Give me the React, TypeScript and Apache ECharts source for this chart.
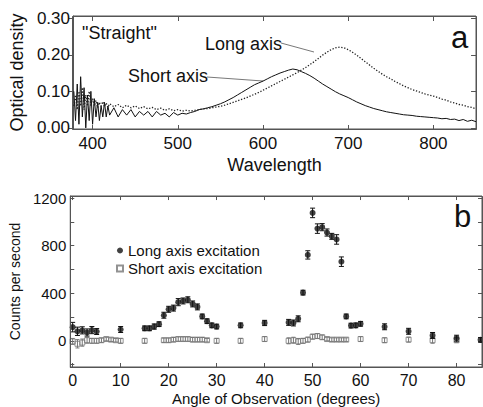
import React, { useEffect, useRef } from 'react';
import * as echarts from 'echarts';

const FONT = 'Liberation Sans, Arial, sans-serif';

// Panel a: absorption spectra
const wavelengths = [
  378, 380, 382, 384, 386, 388, 390, 392, 394, 396, 398, 400, 402, 404, 406, 408, 410, 412, 414, 416, 418, 420,
  425, 430, 435, 440, 445, 450, 455, 460, 465, 470, 475, 480, 485, 490, 495, 500, 505, 510, 515, 520,
  525, 530, 535, 540, 545, 550, 555, 560, 565, 570, 575, 580, 585, 590, 595, 600, 605, 610, 615, 620,
  625, 630, 635, 640, 645, 650, 655, 660, 665, 670, 675, 680, 685, 690, 695, 700, 705, 710, 715, 720,
  725, 730, 735, 740, 745, 750, 755, 760, 765, 770, 775, 780, 785, 790, 795, 800, 805, 810, 815, 820,
  825, 830, 835, 840, 845, 850,
];
const shortAxisOD = [
  0.10, 0.02, 0.12, 0.01, 0.14, 0.03, 0.11, 0.00, 0.09, 0.02, 0.10, 0.01, 0.08, 0.03, 0.07, 0.02, 0.06, 0.03, 0.07, 0.03, 0.06, 0.035,
  0.055, 0.03, 0.05, 0.035, 0.05, 0.03, 0.045, 0.035, 0.045, 0.03, 0.045, 0.035, 0.04, 0.03, 0.042, 0.035, 0.04, 0.038, 0.042, 0.045,
  0.05, 0.052, 0.055, 0.058, 0.062, 0.066, 0.071, 0.077, 0.083, 0.09, 0.097, 0.104, 0.111, 0.118, 0.123, 0.128, 0.134, 0.14, 0.145, 0.15,
  0.154, 0.158, 0.161, 0.159, 0.154, 0.149, 0.143, 0.136, 0.128, 0.12, 0.113, 0.106, 0.099, 0.093, 0.088, 0.083, 0.077, 0.071, 0.066, 0.061,
  0.057, 0.053, 0.05, 0.047, 0.044, 0.042, 0.04, 0.038, 0.036, 0.035, 0.034, 0.032, 0.031, 0.03, 0.029, 0.028, 0.027, 0.025, 0.026, 0.023,
  0.024, 0.02, 0.023, 0.018, 0.021, 0.017,
];
const longAxisOD = [
  0.06, 0.09, 0.05, 0.10, 0.06, 0.11, 0.05, 0.09, 0.06, 0.10, 0.06, 0.08, 0.06, 0.075, 0.055, 0.07, 0.06, 0.072, 0.058, 0.068, 0.056, 0.066,
  0.058, 0.064, 0.055, 0.062, 0.055, 0.06, 0.053, 0.058, 0.052, 0.056, 0.05, 0.054, 0.048, 0.052, 0.047, 0.05, 0.046, 0.048, 0.046, 0.048,
  0.05, 0.052, 0.053, 0.055, 0.057, 0.059, 0.062, 0.066, 0.07, 0.074, 0.078, 0.082, 0.087, 0.092, 0.097, 0.103, 0.109, 0.115, 0.121, 0.127,
  0.133, 0.139, 0.145, 0.151, 0.158, 0.165, 0.173, 0.181, 0.19, 0.199, 0.207, 0.214, 0.219, 0.221, 0.219, 0.214, 0.207, 0.199, 0.19, 0.181,
  0.172, 0.163, 0.155, 0.147, 0.14, 0.134, 0.127, 0.121, 0.115, 0.11, 0.105, 0.101, 0.097, 0.093, 0.09, 0.087, 0.083, 0.079, 0.076, 0.071,
  0.068, 0.064, 0.062, 0.058, 0.056, 0.052,
];

// Panel b: counts vs angle
const angleLong = [0, 1, 2, 3, 4, 5, 10, 15, 16, 17, 18, 19, 20, 21, 22, 23, 24, 25, 26, 27, 28, 29, 30, 35, 40, 45, 46, 47, 48, 49, 50, 51, 52, 53, 54, 55, 56, 57, 58, 59, 60, 65, 70, 75, 80, 85];
const countsLong = [115, 80, 88, 70, 90, 78, 95, 105, 105, 120, 140, 215, 265, 275, 325, 335, 345, 310, 285, 205, 165, 130, 120, 130, 150, 155, 150, 185, 405, 722, 1075, 943, 955, 910, 878, 852, 665, 205, 128, 130, 143, 118, 80, 45, 22, 8];
const errLong = [40, 35, 30, 30, 30, 25, 25, 20, 20, 22, 20, 25, 25, 25, 30, 25, 25, 25, 25, 20, 20, 20, 20, 20, 22, 25, 25, 25, 20, 35, 40, 40, 30, 30, 25, 40, 40, 20, 20, 20, 20, 25, 25, 25, 25, 20];
const angleShort = [0, 1, 2, 3, 4, 5, 6, 7, 8, 9, 10, 15, 19, 20, 21, 22, 23, 24, 25, 26, 27, 28, 30, 35, 40, 45, 46, 47, 48, 49, 50, 51, 52, 53, 54, 55, 56, 57, 60, 65, 70, 75, 80];
const countsShort = [-5, -25, -15, 5, 0, 0, 5, 15, 10, 5, 0, 0, 5, 5, 10, 15, 15, 15, 10, 10, 10, 5, 0, 0, 15, 0, 5, -5, 0, 10, 35, 40, 30, 15, 10, 10, 10, 10, 15, 5, 10, 5, 5];
const errShort = [25, 35, 30, 25, 20, 20, 18, 15, 15, 15, 20, 20, 18, 18, 18, 18, 18, 18, 18, 18, 18, 15, 20, 20, 20, 25, 25, 25, 20, 20, 20, 20, 18, 15, 15, 15, 15, 15, 20, 20, 20, 25, 20];

const odTicks = [0, 0.1, 0.2, 0.3];
const wlTicks = [400, 500, 600, 700, 800];
const countLabelTicks = [0, 400, 800, 1200];
const countTicks = [-200, 0, 200, 400, 600, 800, 1000, 1200];
const angleTicks = [0, 10, 20, 30, 40, 50, 60, 70, 80];

const WL_MIN = 377, WL_MAX = 850, OD_MIN = -0.003, OD_MAX = 0.306;
const ANG_MIN = -0.5, ANG_MAX = 85.3, CNT_MIN = -220, CNT_MAX = 1217;

const AXIS_COLOR = '#555';
const TEXT_COLOR = '#111';

const GRID_A = { left: 72, top: 16, width: 404, height: 113 };
const GRID_B = { left: 70, top: 196, width: 412, height: 171 };

function errorBarRenderer(color: string, cap: number) {
  return (params: any, api: any) => {
    const x = api.value(0);
    const top = api.coord([x, api.value(2)]);
    const bot = api.coord([x, api.value(1)]);
    const style = { stroke: color, lineWidth: 1 };
    return {
      type: 'group',
      children: [
        { type: 'line', shape: { x1: top[0], y1: top[1], x2: bot[0], y2: bot[1] }, style },
        { type: 'line', shape: { x1: top[0] - cap, y1: top[1], x2: top[0] + cap, y2: top[1] }, style },
        { type: 'line', shape: { x1: bot[0] - cap, y1: bot[1], x2: bot[0] + cap, y2: bot[1] }, style },
      ],
    };
  };
}

// Inward ticks on the top and right sides, as mark-line segments in data space
function tickMarkLine(xMax: number, yMax: number, xTicks: number[], yTicks: number[], dx: number, dy: number) {
  return {
    silent: true,
    symbol: 'none',
    animation: false,
    label: { show: false },
    emphasis: { disabled: true },
    lineStyle: { color: AXIS_COLOR, width: 1, type: 'solid' },
    data: [
      ...xTicks.map((v) => [{ coord: [v, yMax] }, { coord: [v, yMax - dy] }]),
      ...yTicks.map((v) => [{ coord: [xMax, v] }, { coord: [xMax - dx, v] }]),
    ],
  };
}

function frameRect(g: { left: number; top: number; width: number; height: number }) {
  return {
    type: 'rect',
    silent: true,
    z: 50,
    shape: { x: g.left + 0.5, y: g.top + 0.5, width: g.width, height: g.height },
    style: { fill: 'none', stroke: AXIS_COLOR, lineWidth: 1 },
  };
}

export default function App() {
  const ref = useRef<HTMLDivElement>(null);
  useEffect(() => {
    if (!ref.current) return;
    const chart = echarts.init(ref.current, undefined, { renderer: 'svg' });
    const axisLine = { show: true, onZero: false, lineStyle: { color: AXIS_COLOR, width: 1 } };
    const gridStyle = { show: true, borderColor: AXIS_COLOR, borderWidth: 1, backgroundColor: 'rgba(0,0,0,0)' };
    const option: any = {
      animation: false,
      backgroundColor: '#fff',
      textStyle: { fontFamily: FONT },
      grid: [{ ...GRID_A, ...gridStyle }, { ...GRID_B, ...gridStyle }],
      xAxis: [
        {
          type: 'value', gridIndex: 0, min: WL_MIN, max: WL_MAX, position: 'bottom',
          axisLine, splitLine: { show: false },
          axisTick: { inside: true, length: 4, customValues: wlTicks, lineStyle: { color: AXIS_COLOR } },
          axisLabel: { customValues: wlTicks, fontSize: 17, color: TEXT_COLOR, fontFamily: FONT, margin: 6 },
          name: 'Wavelength', nameLocation: 'middle', nameGap: 27,
          nameTextStyle: { fontSize: 18, color: TEXT_COLOR, fontFamily: FONT },
        },
        {
          type: 'value', gridIndex: 1, min: ANG_MIN, max: ANG_MAX, position: 'bottom',
          axisLine, splitLine: { show: false },
          axisTick: { inside: true, length: 4, customValues: angleTicks, lineStyle: { color: AXIS_COLOR } },
          axisLabel: { customValues: angleTicks, fontSize: 16, color: TEXT_COLOR, fontFamily: FONT, margin: 5 },
          name: 'Angle of Observation (degrees)', nameLocation: 'middle', nameGap: 24,
          nameTextStyle: { fontSize: 15, color: TEXT_COLOR, fontFamily: FONT },
        },
      ],
      yAxis: [
        {
          type: 'value', gridIndex: 0, min: OD_MIN, max: OD_MAX, position: 'left',
          axisLine, splitLine: { show: false },
          axisTick: { inside: false, length: 4, customValues: odTicks, lineStyle: { color: AXIS_COLOR } },
          axisLabel: { customValues: odTicks, fontSize: 17, color: TEXT_COLOR, fontFamily: FONT, margin: 3,
            formatter: (v: number) => v.toFixed(2) },
          name: 'Optical density', nameLocation: 'middle', nameRotate: 90, nameGap: 44,
          nameTextStyle: { fontSize: 18, color: TEXT_COLOR, fontFamily: FONT },
        },
        {
          type: 'value', gridIndex: 1, min: CNT_MIN, max: CNT_MAX, position: 'left',
          axisLine, splitLine: { show: false },
          axisTick: { inside: true, length: 4, customValues: countTicks, lineStyle: { color: AXIS_COLOR } },
          axisLabel: { customValues: countLabelTicks, fontSize: 15, color: TEXT_COLOR, fontFamily: FONT, margin: 4,
            formatter: (v: number) => String(v) },
          name: 'Counts per second', nameLocation: 'middle', nameRotate: 90, nameGap: 44,
          nameTextStyle: { fontSize: 14, color: TEXT_COLOR, fontFamily: FONT },
        },
      ],
      legend: {
        orient: 'vertical', left: 111, top: 238, itemWidth: 6, itemHeight: 6, itemGap: 3,
        textStyle: { fontSize: 15, color: TEXT_COLOR, fontFamily: FONT },
        data: ['Long axis excitation', 'Short axis excitation'],
      },
      series: [
        {
          name: 'Short axis', type: 'line', xAxisIndex: 0, yAxisIndex: 0, clip: false,
          data: wavelengths.map((w, i) => [w, shortAxisOD[i]]),
          showSymbol: false, lineStyle: { color: '#111', width: 1 },
          markLine: tickMarkLine(WL_MAX, OD_MAX, wlTicks, odTicks, 5.8, 0.0137),
        },
        {
          name: 'Long axis', type: 'line', xAxisIndex: 0, yAxisIndex: 0,
          data: wavelengths.map((w, i) => [w, longAxisOD[i]]),
          showSymbol: false, lineStyle: { color: '#222', width: 1.3, type: [1.3, 1.7] },
        },
        {
          name: 'Short err', type: 'custom', xAxisIndex: 1, yAxisIndex: 1,
          renderItem: errorBarRenderer('#777', 2),
          data: angleShort.map((a, i) => [a, countsShort[i] - errShort[i], countsShort[i] + errShort[i]]),
          encode: { x: 0, y: [1, 2] }, z: 2,
        },
        {
          name: 'Short axis excitation', type: 'scatter', xAxisIndex: 1, yAxisIndex: 1, clip: false,
          data: angleShort.map((a, i) => [a, countsShort[i]]),
          symbol: 'rect', symbolSize: 5,
          itemStyle: { color: 'rgba(255,255,255,0)', borderColor: '#777', borderWidth: 1 }, z: 3,
          markLine: tickMarkLine(ANG_MAX, CNT_MAX, angleTicks, countTicks, 0.83, 34),
        },
        {
          name: 'Long err', type: 'custom', xAxisIndex: 1, yAxisIndex: 1,
          renderItem: errorBarRenderer('#111', 2.5),
          data: angleLong.map((a, i) => [a, countsLong[i] - errLong[i], countsLong[i] + errLong[i]]),
          encode: { x: 0, y: [1, 2] }, z: 4,
        },
        {
          name: 'Long axis excitation', type: 'scatter', xAxisIndex: 1, yAxisIndex: 1,
          data: angleLong.map((a, i) => [a, countsLong[i]]),
          symbol: 'circle', symbolSize: 6, itemStyle: { color: '#111' }, z: 5,
        },
      ],
      graphic: {
        elements: [
          frameRect(GRID_A),
          frameRect(GRID_B),
          { type: 'text', left: 82, top: 24, style: { text: '"Straight"', fontSize: 18, fill: TEXT_COLOR, fontFamily: FONT } },
          { type: 'text', left: 205, top: 35, style: { text: 'Long axis', fontSize: 18, fill: TEXT_COLOR, fontFamily: FONT } },
          { type: 'text', left: 128, top: 67, style: { text: 'Short axis', fontSize: 18, fill: TEXT_COLOR, fontFamily: FONT } },
          { type: 'line', shape: { x1: 281, y1: 43, x2: 314, y2: 52 }, style: { stroke: '#555', lineWidth: 0.8 } },
          { type: 'line', shape: { x1: 207, y1: 77, x2: 263, y2: 81 }, style: { stroke: '#555', lineWidth: 0.8 } },
          { type: 'text', left: 451, top: 22, style: { text: 'a', fontSize: 31, fill: TEXT_COLOR, fontFamily: FONT } },
          { type: 'text', left: 454, top: 201, style: { text: 'b', fontSize: 31, fill: TEXT_COLOR, fontFamily: FONT } },
        ],
      },
    };
    chart.setOption(option);
    return () => chart.dispose();
  }, []);
  return (
    <div
      ref={ref}
      style={{ position: 'fixed', left: 0, top: 0, width: 483, height: 407, background: '#fff' }}
    />
  );
}
